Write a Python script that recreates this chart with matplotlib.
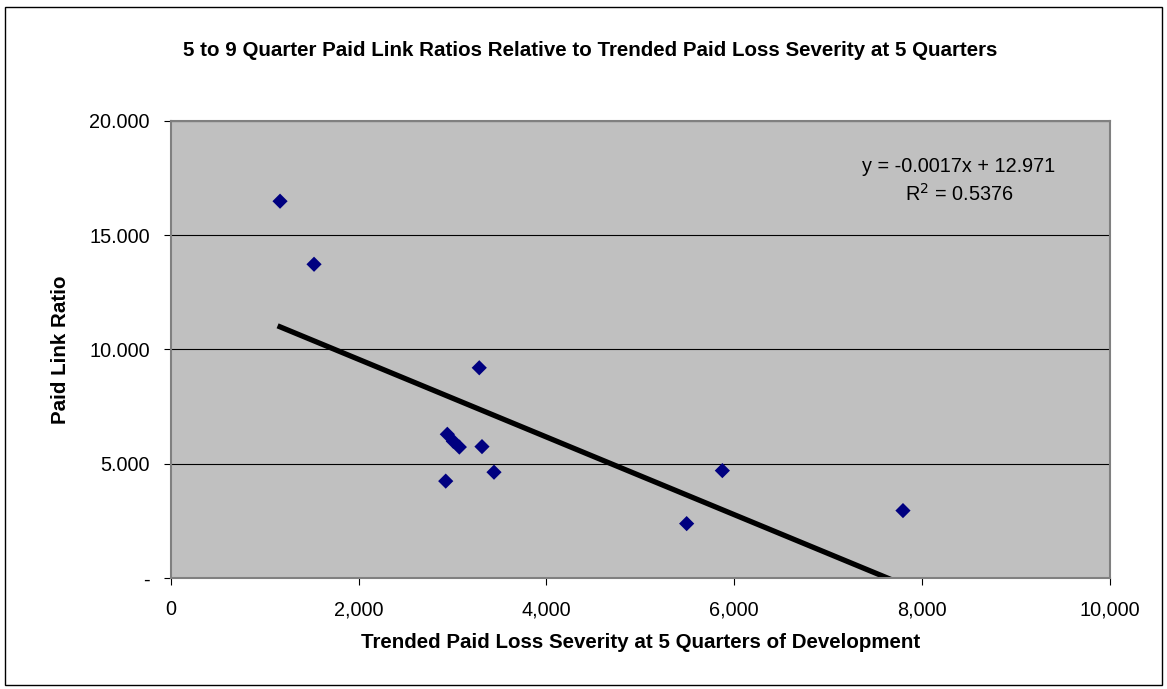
import numpy as np
import matplotlib.pyplot as plt
from matplotlib.ticker import FuncFormatter
from matplotlib.patches import Rectangle

plt.rcParams['font.family'] = ['Liberation Sans', 'DejaVu Sans']

# severity at 5 quarters vs 5-9 quarter paid link ratio
severity = [1164, 1526, 3285, 2945, 3009, 3073, 3314, 2928, 3442, 5873, 5493, 7796]
link_ratio = [16.49, 13.73, 9.20, 6.29, 5.98, 5.73, 5.75, 4.24, 4.63, 4.70, 2.38, 2.95]

# trendline as reported on the chart
slope = -0.0017
intercept = 12.971
r2 = 0.5376

fig = plt.figure(figsize=(11.67, 6.89), dpi=100)
# outer chart border
fig.patches.append(Rectangle((5 / 1167, 4 / 689), 1157 / 1167, 678 / 689, transform=fig.transFigure,
                             fill=False, edgecolor='black', linewidth=1))

ax = fig.add_axes([170.7 / 1167, 1 - 578 / 689, 939.3 / 1167, 457 / 689])
ax.set_facecolor('#C0C0C0')
for s in ax.spines.values():
    s.set_color('#808080')
    s.set_linewidth(1.5)

ax.set_xlim(0, 10000)
ax.set_ylim(0, 20)
ax.set_xticks(np.arange(0, 10001, 2000))
ax.set_yticks(np.arange(0, 20.1, 5))
ax.xaxis.set_major_formatter(FuncFormatter(lambda v, p: f'{v:,.0f}'))
ax.yaxis.set_major_formatter(FuncFormatter(lambda v, p: '-' if v == 0 else f'{v:.3f}'))
ax.tick_params(axis='both', labelsize=14.3, direction='out', length=5, color='black')
ax.tick_params(axis='x', pad=11)
ax.tick_params(axis='y', pad=10)
ax.grid(axis='y', color='black', linewidth=0.8)
ax.set_axisbelow(True)

ax.scatter(severity, link_ratio, marker='D', s=60, color='#000080', zorder=3, edgecolors='none')

xs = np.array([min(severity), max(severity)])
ax.plot(xs, slope * xs + intercept, color='black', linewidth=3.8, zorder=2, clip_on=True)

ax.text(0.839, 0.869, f'y = {slope}x + {intercept}\nR$^2$ = {r2}', transform=ax.transAxes,
        ha='center', va='center', fontsize=14.3, linespacing=1.35)

ax.set_xlabel('Trended Paid Loss Severity at 5 Quarters of Development', fontsize=14.8, fontweight='bold', labelpad=10)
ax.set_ylabel('Paid Link Ratio', fontsize=14.8, fontweight='bold', labelpad=14)
fig.text(590 / 1167, 1 - 50 / 689, '5 to 9 Quarter Paid Link Ratios Relative to Trended Paid Loss Severity at 5 Quarters',
         ha='center', va='center', fontsize=14.8, fontweight='bold')

fig.savefig('out.png', dpi=100)
